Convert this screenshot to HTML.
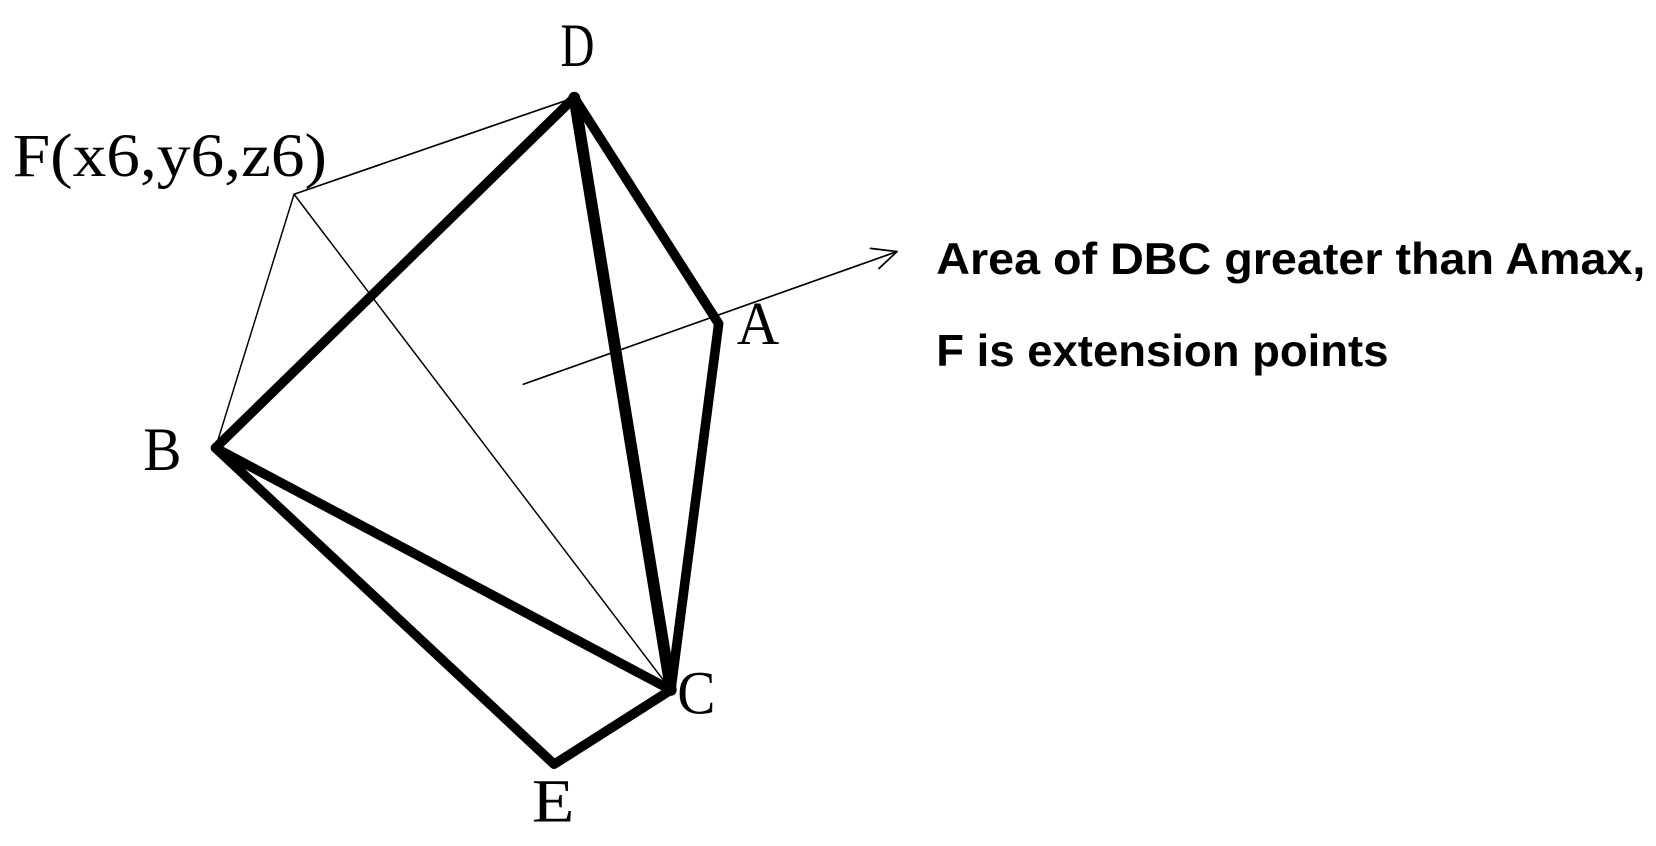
<!DOCTYPE html>
<html><head><meta charset="utf-8"><style>html,body{margin:0;padding:0;background:#fff;}svg{display:block}</style></head>
<body>
<svg width="1656" height="846" viewBox="0 0 1560 797" preserveAspectRatio="none" xmlns="http://www.w3.org/2000/svg">
<g stroke="#000" fill="none" stroke-linejoin="round" stroke-linecap="round">
<line x1="277" y1="183" x2="541" y2="92" stroke-width="1.6"/>
<line x1="277" y1="183" x2="203" y2="422" stroke-width="1.4"/>
<line x1="277" y1="183" x2="632" y2="650" stroke-width="1.4"/>
<line x1="493" y1="362" x2="845" y2="237" stroke-width="1.6"/>
<polyline points="820,234 845,237 828,253" stroke-width="1.6"/>
<line x1="203" y1="422" x2="541" y2="92" stroke-width="9"/>
<polyline points="541,92 677,305 632,650" stroke-width="9"/>
<line x1="541" y1="92" x2="632" y2="650" stroke-width="11"/>
<polyline points="203,422 632,650 522,720 203,422" stroke-width="9"/>
</g>
<g font-family="Liberation Serif, serif" font-size="58" fill="#000">
<text x="528" y="62" textLength="32" lengthAdjust="spacingAndGlyphs">D</text>
<text x="12" y="166" textLength="296" lengthAdjust="spacingAndGlyphs">F(x6,y6,z6)</text>
<text x="694" y="324" textLength="40" lengthAdjust="spacingAndGlyphs">A</text>
<text x="135" y="443" textLength="36" lengthAdjust="spacingAndGlyphs">B</text>
<text x="638" y="672" textLength="36" lengthAdjust="spacingAndGlyphs">C</text>
<text x="501" y="774" textLength="40" lengthAdjust="spacingAndGlyphs">E</text>
</g>
<g font-family="Liberation Sans, sans-serif" font-weight="bold" font-size="42" fill="#000">
<text x="882" y="258" textLength="668" lengthAdjust="spacingAndGlyphs">Area of DBC greater than Amax,</text>
<text x="882" y="345" textLength="426" lengthAdjust="spacingAndGlyphs">F is extension points</text>
</g>
</svg>
</body></html>
